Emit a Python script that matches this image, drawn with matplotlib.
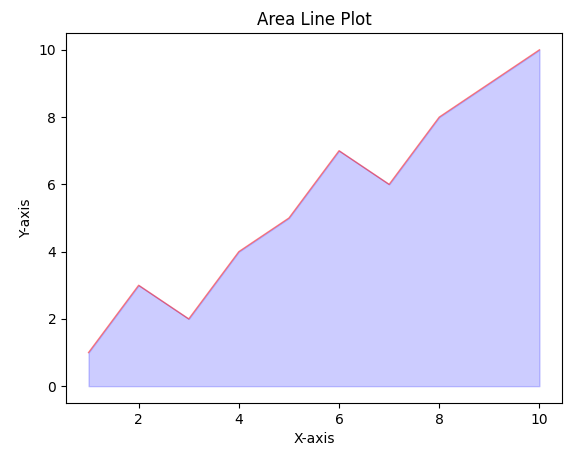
import matplotlib
matplotlib.use("Agg")
import matplotlib.pyplot as plt

x = [1, 2, 3, 4, 5, 6, 7, 8, 9, 10]
y = [1, 3, 2, 4, 5, 7, 6, 8, 9, 10]

fig = plt.figure(figsize=(5.79, 4.5), dpi=100)
ax = fig.add_axes([66/579, 47/450, 496/579, 370/450])
ax.fill_between(x, y, color='blue', alpha=0.2)
ax.plot(x, y, color='red', alpha=0.5, linewidth=1.0)
ax.set_title('Area Line Plot')
ax.set_xlabel('X-axis')
ax.set_ylabel('Y-axis')
fig.savefig('out.png', dpi=100)
